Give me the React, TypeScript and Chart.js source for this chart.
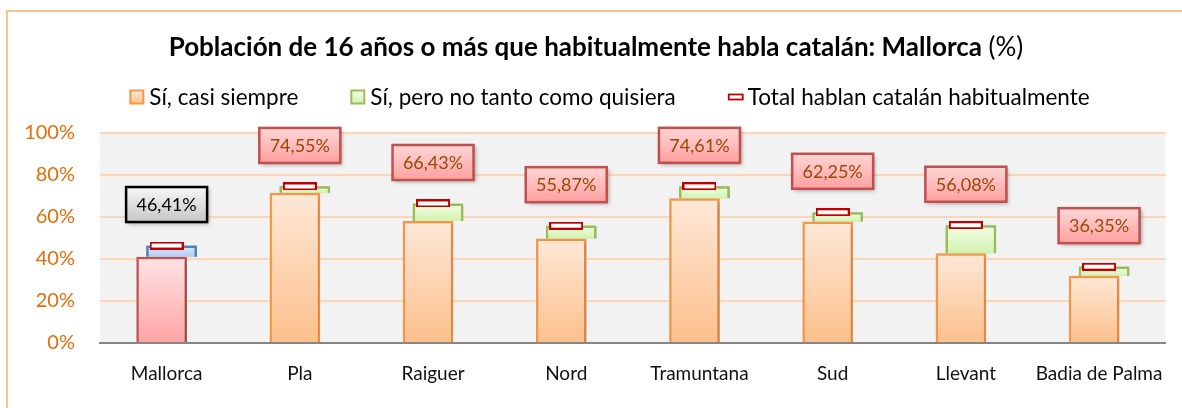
import React, { useEffect, useRef } from 'react';
import { Chart, registerables } from 'chart.js';

Chart.register(...registerables);

const categories = ['Mallorca', 'Pla', 'Raiguer', 'Nord', 'Tramuntana', 'Sud', 'Llevant', 'Badia de Palma'];
const siempre = [41.1, 71.6, 58.1, 49.8, 68.9, 57.8, 42.7, 32.0];
const noTanto = [5.3, 3.0, 8.3, 6.1, 5.7, 4.5, 13.4, 4.4];
const total = [46.41, 74.55, 66.43, 55.87, 74.61, 62.25, 56.08, 36.35];
const seriesLabels = ['Sí, casi siempre', 'Sí, pero no tanto como quisiera', 'Total hablan catalán habitualmente'];
const yTicks = [0, 20, 40, 60, 80, 100];
const titleBold = 'Población de 16 años o más que habitualmente habla catalán: Mallorca';
const titleNormal = ' (%)';

const FONT = 'Lato';

function vgrad(ctx: CanvasRenderingContext2D, y0: number, y1: number, c0: string, c1: string) {
  const g = ctx.createLinearGradient(0, y0, 0, y1);
  g.addColorStop(0, c0);
  g.addColorStop(1, c1);
  return g;
}

function makeMarker(w: number, h: number) {
  const cv = document.createElement('canvas');
  cv.width = w;
  cv.height = h;
  const x = cv.getContext('2d')!;
  x.fillStyle = '#ffffff';
  x.fillRect(0, 0, w, h);
  x.strokeStyle = '#c00000';
  x.lineWidth = 2;
  x.strokeRect(1, 1, w - 2, h - 2);
  return cv;
}

const PAL = {
  main: { c0: '#fee8d7', c1: '#fcc08c', stroke: '#f79646' },
  mainHi: { c0: '#ffe4e4', c1: '#ffa3a3', stroke: '#c0504d' },
  extra: { c0: '#f4fde9', c1: '#d2f3ae', stroke: '#9bbb59' },
  extraHi: { c0: '#dee9fb', c1: '#b3cbf3', stroke: '#4f81bd' },
};

function barFill(kind: 'main' | 'extra') {
  return (c: any) => {
    const chart = c.chart;
    const area = chart.chartArea;
    const pal = c.dataIndex === 0 ? (kind === 'main' ? PAL.mainHi : PAL.extraHi) : (kind === 'main' ? PAL.main : PAL.extra);
    if (!area || c.raw === undefined) return pal.c1;
    const y = chart.scales.y;
    const raw = c.raw;
    let lo = 0;
    let hi = raw;
    if (Array.isArray(raw)) { lo = raw[0]; hi = raw[1]; }
    const top = y.getPixelForValue(hi);
    const bot = y.getPixelForValue(lo);
    return vgrad(chart.ctx, top, bot, pal.c0, pal.c1);
  };
}

function barStroke(kind: 'main' | 'extra') {
  return (c: any) => {
    const pal = c.dataIndex === 0 ? (kind === 'main' ? PAL.mainHi : PAL.extraHi) : (kind === 'main' ? PAL.main : PAL.extra);
    return pal.stroke;
  };
}

const decorPlugin = {
  id: 'decor',
  beforeDraw(chart: any) {
    const { ctx, chartArea } = chart;
    ctx.save();
    ctx.fillStyle = '#ffffff';
    ctx.fillRect(0, 0, chart.width, chart.height);
    ctx.strokeStyle = '#fac090';
    ctx.lineWidth = 2;
    ctx.strokeRect(7, 11, chart.width + 50, chart.height + 50);
    ctx.fillStyle = '#f2f2f2';
    ctx.fillRect(chartArea.left, chartArea.top, chartArea.right - chartArea.left, chartArea.bottom - chartArea.top);
    ctx.restore();
  },
  beforeDatasetDraw(chart: any, args: any) {
    const ctx = chart.ctx;
    ctx.save();
    if (args.meta.type === 'bar') {
      ctx.shadowColor = 'rgba(0,0,0,0.22)';
      ctx.shadowBlur = 3;
      ctx.shadowOffsetX = 1.5;
      ctx.shadowOffsetY = 1.5;
    }
  },
  afterDatasetDraw(chart: any) {
    chart.ctx.restore();
  },
  afterDatasetsDraw(chart: any) {
    const ctx = chart.ctx;
    const area = chart.chartArea;
    // bring the "no tanto" bars and the total markers above the main bars
    chart.getDatasetMeta(1).data.forEach((el: any) => el.draw(ctx, area));
    chart.getDatasetMeta(2).data.forEach((el: any) => el.draw(ctx, area));

    const meta = chart.getDatasetMeta(2);
    meta.data.forEach((pt: any, i: number) => {
      const w = 81;
      const h = 35;
      const cx = pt.x;
      const cy = pt.y - 41;
      const hiRow = i === 0;
      ctx.save();
      ctx.shadowColor = 'rgba(0,0,0,0.3)';
      ctx.shadowBlur = 4;
      ctx.shadowOffsetX = 2;
      ctx.shadowOffsetY = 2;
      ctx.fillStyle = hiRow
        ? vgrad(ctx, cy - h / 2, cy + h / 2, '#f7f7f7', '#c6c6c6')
        : vgrad(ctx, cy - h / 2, cy + h / 2, '#ffd6d6', '#ffa0a0');
      ctx.fillRect(cx - w / 2, cy - h / 2, w, h);
      ctx.shadowColor = 'transparent';
      ctx.lineWidth = 2.5;
      ctx.strokeStyle = hiRow ? '#000000' : '#c0504d';
      ctx.strokeRect(cx - w / 2, cy - h / 2, w, h);
      ctx.fillStyle = hiRow ? '#000000' : '#984807';
      ctx.font = `18px ${FONT}`;
      ctx.textAlign = 'center';
      ctx.textBaseline = 'middle';
      ctx.fillText(total[i].toFixed(2).replace('.', ',') + '%', cx, cy + 1);
      ctx.restore();
    });
  },
  afterDraw(chart: any) {
    const ctx = chart.ctx;
    ctx.save();
    // title
    ctx.textBaseline = 'middle';
    ctx.fillStyle = '#000000';
    ctx.font = `bold 26px ${FONT}`;
    const wb = ctx.measureText(titleBold).width;
    ctx.font = `26px ${FONT}`;
    const wn = ctx.measureText(titleNormal).width;
    const tx = 596 - (wb + wn) / 2;
    ctx.font = `bold 26px ${FONT}`;
    ctx.textAlign = 'left';
    ctx.fillText(titleBold, tx, 48);
    ctx.font = `26px ${FONT}`;
    ctx.fillText(titleNormal, tx + wb, 48);

    // legend
    ctx.font = `22.5px ${FONT}`;
    const symW = 14;
    const gap = 5;
    const itemGap = 53;
    const widths = seriesLabels.map((l) => symW + gap + ctx.measureText(l).width);
    const totalW = widths.reduce((a, b) => a + b, 0) + itemGap * (seriesLabels.length - 1);
    let x = 610 - totalW / 2;
    const y = 97;
    seriesLabels.forEach((label, k) => {
      if (k < 2) {
        const pal = k === 0 ? PAL.main : PAL.extra;
        ctx.fillStyle = vgrad(ctx, y - 6.5, y + 6.5, pal.c0, pal.c1);
        ctx.fillRect(x, y - 6.5, 13, 13);
        ctx.strokeStyle = pal.stroke;
        ctx.lineWidth = 2;
        ctx.strokeRect(x, y - 6.5, 13, 13);
      } else {
        ctx.fillStyle = '#ffffff';
        ctx.fillRect(x, y - 2.5, 14, 5);
        ctx.strokeStyle = '#c00000';
        ctx.lineWidth = 1.8;
        ctx.strokeRect(x, y - 2.5, 14, 5);
      }
      ctx.fillStyle = '#000000';
      ctx.textAlign = 'left';
      ctx.fillText(label, x + symW + gap, y + 1);
      x += widths[k] + itemGap;
    });
    ctx.restore();
  },
};

export default function App() {
  const ref = useRef<HTMLCanvasElement | null>(null);

  useEffect(() => {
    if (!ref.current) return;
    const marker = makeMarker(34, 8);
    const chart = new Chart(ref.current, {
      type: 'bar',
      data: {
        labels: categories,
        datasets: [
          {
            type: 'bar',
            label: seriesLabels[0],
            data: siempre,
            backgroundColor: barFill('main'),
            borderColor: barStroke('main'),
            borderWidth: 2.5,
            categoryPercentage: 0.1491,
            barPercentage: 5.1,
            order: 0,
          },
          {
            type: 'bar',
            label: seriesLabels[1],
            data: siempre.map((s, i) => [s, s + noTanto[i]]),
            backgroundColor: barFill('extra'),
            borderColor: barStroke('extra'),
            borderWidth: 2.5,
            categoryPercentage: 0.1491,
            barPercentage: 5.1,
            order: 0,
          },
          {
            type: 'line',
            label: seriesLabels[2],
            data: total,
            showLine: false,
            pointStyle: marker as any,
            pointRadius: 3,
            pointHoverRadius: 3,
            order: -1,
          },
        ] as any,
      },
      options: {
        animation: false,
        responsive: true,
        maintainAspectRatio: false,
        devicePixelRatio: 1,
        layout: { padding: { top: 133, right: 9, bottom: 0, left: 0 } },
        plugins: {
          legend: { display: false },
          title: { display: false },
          tooltip: { enabled: false },
        },
        scales: {
          x: {
            grid: { display: false, drawTicks: false },
            border: { display: true, color: '#868686', width: 2 },
            ticks: { color: '#111111', font: { family: FONT, size: 19 }, padding: 19, maxRotation: 0 },
            afterFit: (s: any) => { s.height = 65; },
          },
          y: {
            min: 0,
            max: 100,
            afterBuildTicks: (s: any) => { s.ticks = yTicks.map((v) => ({ value: v })); },
            grid: {
              color: (c: any) => (c.index === 0 ? 'rgba(0,0,0,0)' : '#fcd5b4'),
              lineWidth: 2,
              drawTicks: false,
            },
            border: { display: false },
            ticks: {
              color: '#e46c0a',
              font: { family: FONT, size: 20 },
              padding: 25,
              callback: (v: any) => v + '%',
            },
            afterFit: (s: any) => { s.width = 100; },
          },
        },
      },
      plugins: [decorPlugin],
    });
    return () => chart.destroy();
  }, []);

  return (
    <div style={{ position: 'fixed', left: 0, top: 0, width: 1182, height: 408, background: '#fff' }}>
      <canvas ref={ref} />
    </div>
  );
}
